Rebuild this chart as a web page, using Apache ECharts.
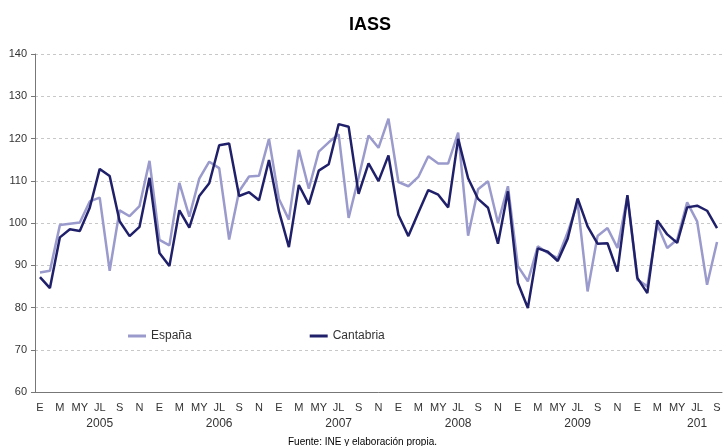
<!DOCTYPE html>
<html lang="es">
<head>
<meta charset="UTF-8">
<title>IASS</title>
<script src="https://cdn.jsdelivr.net/npm/echarts@6/dist/echarts.min.js"></script>
<style>
  html, body { margin: 0; padding: 0; background: #fff; }
</style>
</head>
<body>
<div id="chart" style="width:725px;height:446px"></div>
<script type="text/javascript">
    // meses (abreviaturas del eje) y años
    var monthNames = ['E', 'F', 'M', 'A', 'MY', 'JN', 'JL', 'AG', 'S', 'O', 'N', 'D'];
    var years = ['2005', '2006', '2007', '2008', '2009', '201'];

    // ene 2005 - sep 2010
    var espana = [
        88.3, 88.7, 99.5, 99.8, 100.1, 105.1, 106.0, 88.7, 103.0, 101.6, 104.0, 114.7,
        96.0, 94.7, 109.5, 101.5, 110.5, 114.5, 113.0, 96.1, 107.5, 111.0, 111.2, 119.9,
        105.7, 100.8, 117.3, 108.1, 116.9, 119.1, 121.0, 101.2, 110.7, 120.7, 117.8, 124.7,
        109.7, 108.7, 110.9, 115.8, 114.1, 114.1, 121.4, 97.0, 108.0, 109.9, 100.0, 108.7,
        89.8, 86.2, 94.5, 92.9, 91.7, 97.8, 104.8, 83.8, 96.9, 98.8, 94.1, 106.3,
        86.6, 85.0, 99.6, 94.1, 96.1, 104.9, 100.4, 85.4, 95.5
    ];
    var cantabria = [
        87.2, 84.6, 96.6, 98.5, 98.1, 103.6, 112.8, 111.1, 100.4, 96.9, 99.1, 110.7,
        92.9, 89.8, 103.0, 98.9, 106.4, 109.4, 118.4, 118.8, 106.4, 107.3, 105.4, 114.9,
        102.8, 94.3, 109.0, 104.4, 112.4, 113.9, 123.4, 122.8, 106.9, 114.1, 109.9, 116.0,
        101.9, 96.9, 102.4, 107.8, 106.7, 103.7, 119.9, 110.6, 105.7, 103.6, 95.1, 107.5,
        85.8, 79.9, 94.0, 93.2, 91.0, 96.3, 105.8, 99.2, 95.1, 95.2, 88.5, 106.6,
        87.0, 83.4, 100.6, 97.3, 95.3, 103.7, 104.1, 102.9, 98.8
    ];

    var categories = [];
    for (var i = 0; i < espana.length; i++) {
        categories.push(years[Math.floor(i / 12)] + '|' + monthNames[i % 12]);
    }

    var font = 'Liberation Sans, Arial, sans-serif';
    var chart = echarts.init(document.getElementById('chart'));

    chart.setOption({
        animation: false,
        title: {
            text: 'IASS',
            left: 344,
            top: 11,
            textStyle: { fontFamily: font, fontSize: 18, fontWeight: 'bold', color: '#000' }
        },
        legend: {
            data: ['España', 'Cantabria'],
            left: 123,
            top: 325,
            itemGap: 118,
            itemWidth: 18,
            itemHeight: 3,
            icon: 'rect',
            textStyle: { fontFamily: font, fontSize: 12, color: '#333' }
        },
        grid: { left: 35, right: 3, top: 54, bottom: 54, containLabel: false },
        xAxis: [
            {
                type: 'category',
                data: categories,
                boundaryGap: true,
                axisLine: { lineStyle: { color: '#777', width: 1 } },
                axisTick: { interval: 0, length: 4, lineStyle: { color: '#777' } },
                axisLabel: {
                    interval: 1,
                    margin: 10,
                    fontFamily: font,
                    fontSize: 11,
                    color: '#333',
                    formatter: function (v) { return v.split('|')[1]; }
                }
            },
            {
                type: 'category',
                data: categories,
                position: 'bottom',
                offset: 16,
                boundaryGap: true,
                axisLine: { show: false },
                axisTick: { show: false },
                axisLabel: {
                    interval: 0,
                    margin: 10,
                    fontFamily: font,
                    fontSize: 12,
                    color: '#333',
                    formatter: function (v, idx) { return idx % 12 === 6 ? v.split('|')[0] : ''; }
                }
            }
        ],
        yAxis: {
            type: 'value',
            min: 60,
            max: 140,
            interval: 10,
            axisLine: { show: true, lineStyle: { color: '#777' } },
            axisTick: { show: true, length: 4, lineStyle: { color: '#777' } },
            axisLabel: { fontFamily: font, fontSize: 11, color: '#333', margin: 8 },
            splitLine: { lineStyle: { color: '#c8c8c8', type: [3, 3] } }
        },
        graphic: [{
            type: 'text',
            left: 'center',
            top: 437,
            style: { text: 'Fuente: INE y elaboración propia.', font: '10px ' + font, fill: '#000' }
        }],
        series: [
            {
                name: 'España',
                type: 'line',
                data: espana,
                showSymbol: false,
                symbol: 'none',
                lineStyle: { color: '#9a9acc', width: 2.5 },
                itemStyle: { color: '#9a9acc' }
            },
            {
                name: 'Cantabria',
                type: 'line',
                data: cantabria,
                showSymbol: false,
                symbol: 'none',
                lineStyle: { color: '#20206a', width: 2.5 },
                itemStyle: { color: '#20206a' }
            }
        ]
    });
</script>
</body>
</html>
